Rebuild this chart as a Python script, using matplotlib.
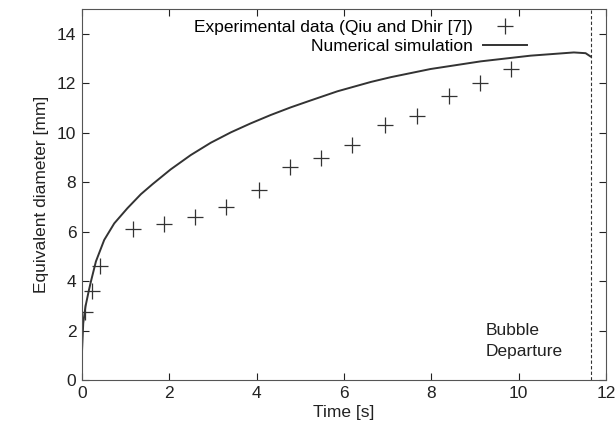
import matplotlib.pyplot as plt
import numpy as np

plt.rcParams['font.family'] = ['Liberation Sans', 'DejaVu Sans']

# experimental data (Qiu and Dhir)
t_exp = [0.07, 0.23, 0.41, 1.17, 1.88, 2.59, 3.30, 4.05, 4.76, 5.47, 6.18, 6.94, 7.67, 8.40, 9.11, 9.82]
d_exp = [2.75, 3.6, 4.6, 6.1, 6.3, 6.6, 7.0, 7.7, 8.6, 9.0, 9.5, 10.3, 10.7, 11.5, 12.0, 12.6]

# numerical simulation
t_sim = [0.0, 0.03, 0.08, 0.16, 0.21, 0.32, 0.51, 0.74, 1.04, 1.35, 1.62, 2.03, 2.49, 2.95,
         3.41, 3.86, 4.32, 4.78, 5.22, 5.85, 6.62, 7.07, 7.98, 9.13, 10.27, 11.26, 11.53, 11.64]
d_sim = [1.1, 2.3, 2.97, 3.64, 4.02, 4.8, 5.67, 6.34, 6.95, 7.52, 7.93, 8.52, 9.1, 9.6,
         10.02, 10.38, 10.72, 11.03, 11.30, 11.68, 12.06, 12.25, 12.58, 12.89, 13.12, 13.25, 13.22, 13.09]

t_depart = 11.65

fig = plt.figure(figsize=(6.16, 4.36), dpi=100)
ax = fig.add_axes([0.133, 0.128, 0.851, 0.851])

ax.plot(t_exp, d_exp, '+', color='#333333', ms=11, mew=0.9, label='Experimental data (Qiu and Dhir [7])')
ax.plot(t_sim, d_sim, '-', color='#333333', lw=1.4, label='Numerical simulation')
ax.axvline(t_depart, color='#333333', lw=0.8, ls=(0, (3, 2)))
ax.text(9.25, 1.6, 'Bubble\nDeparture', fontsize=12.5, color='#222222', va='center', ha='left', linespacing=1.5)

ax.set_xlim(0, 12)
ax.set_ylim(0, 15)
ax.set_xticks(range(0, 13, 2))
ax.set_yticks(range(0, 15, 2))
ax.tick_params(direction='in', top=True, right=True, length=5, labelsize=12.5, colors='#222222', pad=4)
for s in ax.spines.values():
    s.set_color('#555555')
ax.set_xlabel('Time [s]', fontsize=12.5, color='#222222', labelpad=3)
ax.set_ylabel('Equivalent diameter [mm]', fontsize=12.5, color='#222222', labelpad=6)

ax.legend(loc='upper right', bbox_to_anchor=(0.862, 0.99), frameon=False, markerfirst=False,
          fontsize=12.5, handlelength=2.5, handletextpad=0.6, labelspacing=0.25, borderaxespad=0)

plt.savefig('out.png', dpi=100)
